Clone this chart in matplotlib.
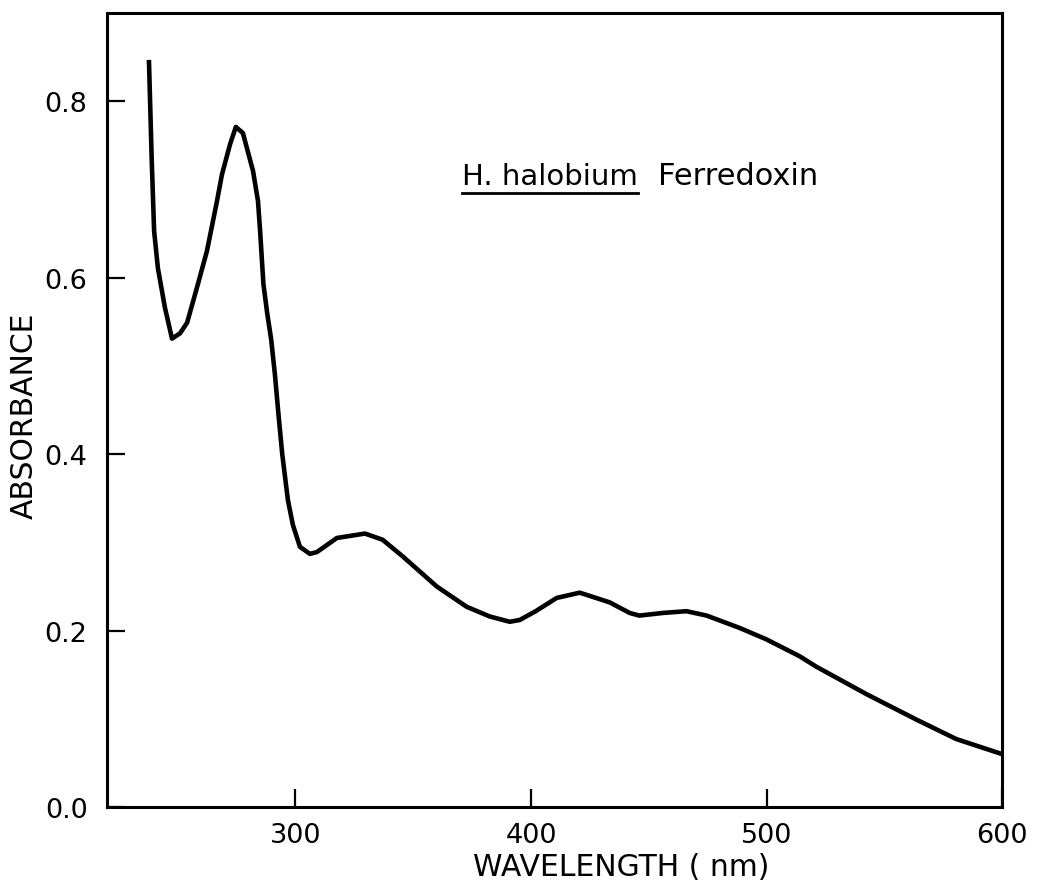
import matplotlib
matplotlib.use("Agg")
import matplotlib.pyplot as plt

# absorption spectrum
wavelength = [237.8, 239.0, 240.0, 241.6, 244.6, 247.6, 251.0, 254.0, 258.2,
              262.4, 266.7, 268.8, 272.2, 274.7, 277.7, 282.0, 284.1, 285.0,
              286.4, 288.0, 289.7, 291.3, 292.8, 294.4, 296.8, 298.9, 301.9,
              306.1, 309.1, 317.6, 329.5, 337.0, 345.6, 360.0, 372.7, 382.5,
              391.0, 395.2, 402.0, 410.9, 420.7, 433.4, 441.9, 446.0, 456.0,
              466.0, 474.6, 488.6, 500.0, 514.0, 521.2, 542.4, 563.7, 580.6,
              600.0]
absorbance = [0.847, 0.732, 0.653, 0.611, 0.566, 0.531, 0.537, 0.549, 0.589,
              0.630, 0.687, 0.717, 0.751, 0.771, 0.764, 0.721, 0.687, 0.653,
              0.593, 0.560, 0.530, 0.490, 0.445, 0.400, 0.348, 0.320, 0.295,
              0.287, 0.289, 0.305, 0.310, 0.303, 0.284, 0.250, 0.227, 0.216,
              0.210, 0.212, 0.222, 0.237, 0.243, 0.232, 0.220, 0.217, 0.220,
              0.222, 0.217, 0.203, 0.190, 0.171, 0.159, 0.128, 0.099, 0.077,
              0.060]

x_ticks = [300, 400, 500, 600]
y_ticks = [0.0, 0.2, 0.4, 0.6, 0.8]

plt.rcParams['font.family'] = ['DejaVu Sans']

fig = plt.figure(figsize=(10.45, 8.95), dpi=100)
ax = fig.add_axes([0.1024, 0.0972, 0.8565, 0.887])

ax.plot(wavelength, absorbance, color='black', lw=3.3,
        solid_joinstyle='round', solid_capstyle='butt')

ax.set_xlim(220, 600)
ax.set_ylim(0, 0.9)
ax.set_xticks(x_ticks)
ax.set_yticks(y_ticks)
ax.set_yticklabels([f"{v:.1f}" for v in y_ticks])
ax.tick_params(direction='in', length=13, width=1.6, labelsize=19.5)
ax.tick_params(axis='y', pad=14)
ax.tick_params(axis='x', pad=11)
for s in ax.spines.values():
    s.set_linewidth(2.2)

fig.text(24 / 1045, 1 - 416 / 895, 'ABSORBANCE', rotation=90,
         ha='center', va='center', fontsize=21.5)
fig.text(621 / 1045, 1 - 868 / 895, 'WAVELENGTH ( nm)',
         ha='center', va='center', fontsize=21.5)

# annotation with underlined species name
t1 = ax.text(0.3966, 0.7846, 'H. halobium', transform=ax.transAxes,
             fontsize=21, va='baseline', ha='left')
fig.canvas.draw()
bb = t1.get_window_extent().transformed(ax.transAxes.inverted())
ax.text(bb.x1 + 0.022, 0.7846, 'Ferredoxin', transform=ax.transAxes,
        fontsize=22, va='baseline', ha='left')
ax.plot([bb.x0, bb.x1], [0.7736, 0.7736], transform=ax.transAxes,
        color='black', lw=2.0)

fig.savefig('out.png', dpi=100)
